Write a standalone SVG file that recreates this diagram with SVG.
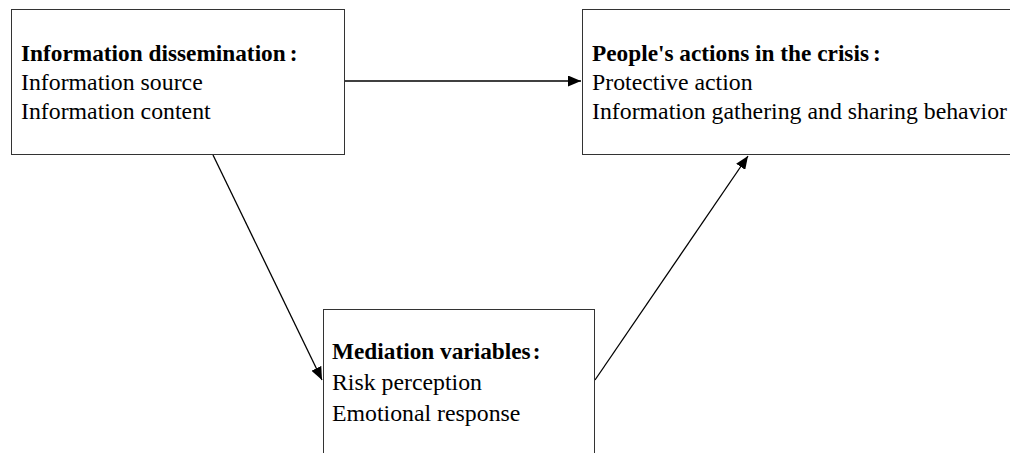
<svg xmlns="http://www.w3.org/2000/svg" width="1010" height="453" viewBox="0 0 1010 453">
<style>
.box{fill:#fff;stroke:#333;stroke-width:1}
.t{font-family:"Liberation Serif","Noto Sans CJK SC",serif;font-size:23.8px;fill:#000}
.b{font-weight:bold;font-size:23.3px}
.c{stroke:#000;stroke-width:1.3;fill:none}
</style>
<defs>
<marker id="ah" viewBox="0 0 10 10" refX="10" refY="5" markerWidth="13" markerHeight="11" preserveAspectRatio="none" markerUnits="userSpaceOnUse" orient="auto">
<path d="M0,0 L10,5 L0,10 z" fill="#000"/>
</marker>
</defs>
<g id="connectors">
<line class="c" x1="345" y1="81" x2="581" y2="81" marker-end="url(#ah)"/>
<line class="c" x1="213" y1="155" x2="322" y2="380" marker-end="url(#ah)"/>
<line class="c" x1="595" y1="380" x2="748" y2="156" marker-end="url(#ah)"/>
</g>
<g id="node-dissemination">
<rect class="box" x="11.5" y="9.5" width="333" height="145"/>
<text class="t b" x="21" y="61">Information dissemination<tspan dx="4">:</tspan></text>
<text class="t" x="21" y="90">Information source</text>
<text class="t" x="21" y="119">Information content</text>
</g>
<g id="node-actions">
<rect class="box" x="582.5" y="9.5" width="440" height="145"/>
<text class="t b" x="592" y="61">People's actions in the crisis<tspan dx="4">:</tspan></text>
<text class="t" x="592" y="90">Protective action</text>
<text class="t" x="592" y="119">Information gathering and sharing behavior</text>
</g>
<g id="node-mediation">
<rect class="box" x="323.5" y="309.5" width="271" height="160"/>
<text class="t b" x="332" y="359">Mediation variables<tspan dx="2">:</tspan></text>
<text class="t" x="332" y="390">Risk perception</text>
<text class="t" x="332" y="421">Emotional response</text>
</g>
</svg>
